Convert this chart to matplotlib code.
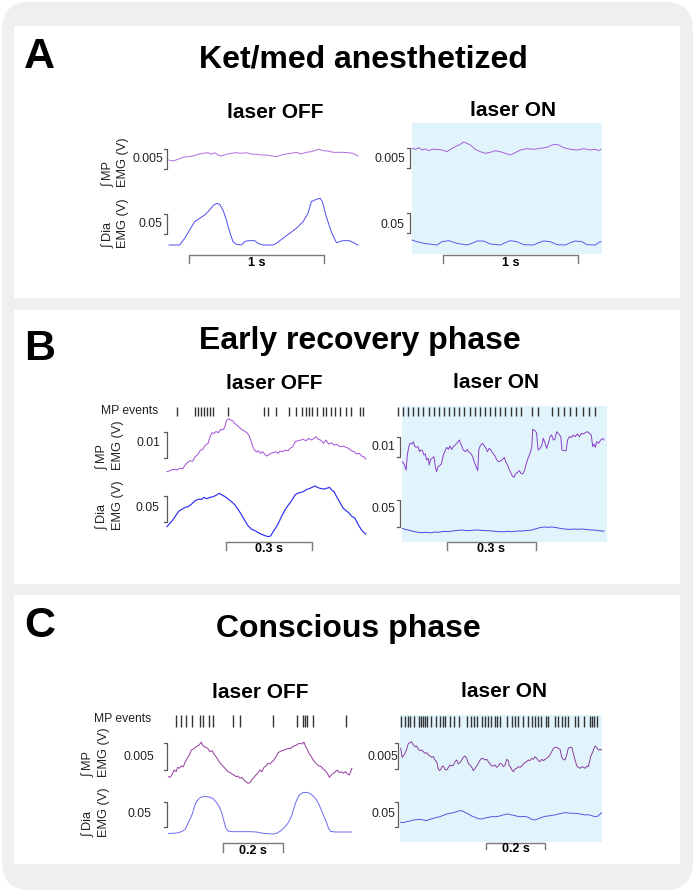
import numpy as np
import matplotlib
matplotlib.use('Agg')
import matplotlib.pyplot as plt
from matplotlib.patches import Rectangle, FancyBboxPatch

plt.rcParams['font.family'] = ['Liberation Sans', 'DejaVu Sans']

W, H = 695, 892

# ---- traces: (time in s, integrated EMG in mV) ----
# A: ket/med anesthetized
a_mp_off = [(0, 3.75), (.030, 3.5), (.067, 3.92), (.104, 4.42), (.141, 4.58), (.178, 4.75), (.215, 5.17),
            (.252, 5.42), (.289, 5.58), (.314, 5.17), (.338, 5.58), (.363, 5.0), (.388, 4.75), (.425, 5.17),
            (.462, 5.42), (.499, 5.58), (.536, 5.42), (.573, 5.58), (.610, 5.25), (.647, 5.17), (.684, 5.0),
            (.721, 5.0), (.758, 4.75), (.795, 4.58), (.832, 5.0), (.869, 5.25), (.906, 5.42), (.943, 5.67),
            (.980, 5.25), (1.017, 5.67), (1.054, 5.83), (1.091, 6.25), (1.116, 6.42), (1.141, 6.08),
            (1.178, 6.0), (1.215, 5.67), (1.252, 5.67), (1.289, 5.67), (1.326, 5.58), (1.363, 5.42),
            (1.400, 4.75)]
a_dia_off = [(0, 12.5), (.079, 12.5), (.116, 29.2), (.153, 50), (.190, 70.8), (.227, 79.2), (.264, 87.5),
             (.301, 100), (.331, 112.5), (.356, 116.7), (.375, 114.2), (.400, 100), (.425, 75), (.449, 45.8),
             (.474, 20.8), (.499, 14.2), (.536, 12.5), (.560, 20.8), (.585, 23.3), (.635, 23.3), (.659, 16.7),
             (.696, 12.5), (.770, 12.5), (.795, 16.7), (.844, 29.2), (.894, 41.7), (.943, 54.2), (.993, 70.8),
             (1.030, 91.7), (1.054, 120.8), (1.091, 126.7), (1.121, 129.2), (1.136, 120.8), (1.165, 83.3),
             (1.202, 45.8), (1.240, 18.3), (1.264, 20.8), (1.289, 23.3), (1.338, 23.3), (1.375, 16.7),
             (1.400, 12.5)]
a_mp_on = [(0, 6.67), (.025, 6.42), (.049, 6.83), (.074, 6.25), (.099, 6.5), (.123, 6.08), (.148, 6.42),
           (.185, 6.42), (.222, 6.25), (.259, 5.83), (.284, 6.42), (.321, 7.08), (.358, 7.67), (.383, 8.25),
           (.407, 7.92), (.432, 7.5), (.469, 6.42), (.506, 5.83), (.543, 5.42), (.580, 5.67), (.617, 6.08),
           (.654, 5.83), (.691, 5.42), (.728, 5.0), (.765, 5.58), (.802, 6.25), (.852, 6.58), (.901, 6.42),
           (.951, 6.67), (1.000, 6.92), (1.037, 7.5), (1.062, 7.67), (1.086, 7.5), (1.123, 6.83),
           (1.173, 6.42), (1.222, 6.25), (1.272, 6.58), (1.321, 6.25), (1.358, 6.42), (1.383, 6.08),
           (1.400, 6.42)]
a_dia_on = [(0, 25), (.037, 20.8), (.086, 16.7), (.185, 12.5), (.222, 20.8), (.272, 23.3), (.333, 16.7),
            (.407, 12.5), (.444, 16.7), (.481, 22.5), (.531, 22.5), (.580, 15), (.654, 12.5), (.691, 18.3),
            (.728, 23.3), (.778, 20.8), (.827, 13.3), (.901, 12.5), (.938, 18.3), (.975, 22.5), (1.025, 20.8),
            (1.074, 13.3), (1.136, 12.5), (1.173, 18.3), (1.210, 22.5), (1.259, 20.8), (1.296, 13.3),
            (1.358, 12.5), (1.383, 19.2), (1.400, 20.8)]

# B: early recovery phase
b_mp_off = [(0, 1.28), (.010, 1.66), (.022, 2.18), (.034, 1.92), (.045, 2.56), (.055, 2.43), (.063, 3.84),
            (.071, 4.74), (.080, 5.50), (.089, 5.25), (.098, 7.04), (.106, 7.68), (.115, 9.34), (.124, 9.86),
            (.134, 11.52), (.143, 12.16), (.150, 14.72), (.157, 16.26), (.164, 16.0), (.171, 16.77),
            (.179, 16.26), (.187, 17.54), (.194, 17.28), (.201, 18.3), (.208, 21.12), (.215, 21.63),
            (.222, 21.12), (.229, 20.86), (.236, 19.84), (.243, 19.2), (.252, 18.3), (.260, 17.54),
            (.268, 17.02), (.278, 16.26), (.285, 15.36), (.292, 13.44), (.298, 11.14), (.305, 9.6),
            (.312, 8.83), (.319, 9.34), (.326, 8.32), (.333, 8.96), (.340, 8.06), (.347, 7.30), (.354, 7.68),
            (.361, 8.32), (.370, 8.58), (.380, 8.96), (.387, 8.32), (.394, 9.22), (.403, 8.96), (.412, 9.6),
            (.422, 9.34), (.429, 10.24), (.438, 10.88), (.447, 12.8), (.456, 13.18), (.466, 13.44),
            (.475, 13.7), (.484, 13.18), (.494, 14.08), (.503, 13.44), (.510, 13.95), (.519, 14.72),
            (.527, 13.7), (.535, 13.44), (.545, 12.16), (.554, 13.44), (.563, 11.9), (.573, 12.42),
            (.582, 11.52), (.591, 11.78), (.603, 10.88), (.614, 11.14), (.624, 10.62), (.633, 10.24),
            (.642, 9.34), (.652, 8.96), (.661, 8.06), (.670, 8.32), (.678, 7.30), (.686, 7.04), (.693, 6.14)]
b_dia_off = [(0, 64.1), (.010, 70.5), (.022, 78.2), (.034, 88.5), (.043, 94.9), (.052, 97.4), (.063, 101.3),
             (.074, 102.6), (.086, 107.7), (.098, 114.1), (.109, 116.7), (.121, 116.7), (.129, 120.5),
             (.138, 117.9), (.150, 120.5), (.161, 121.8), (.173, 125), (.182, 128.2), (.190, 125.6),
             (.202, 121.8), (.214, 116.7), (.225, 112.2), (.237, 105.8), (.249, 96.2), (.260, 86.5),
             (.272, 75), (.283, 65.4), (.295, 59), (.307, 56.4), (.318, 52.6), (.330, 49.4), (.341, 46.8),
             (.353, 44.9), (.361, 46.2), (.370, 54.5), (.380, 62.8), (.389, 71.8), (.400, 84.6), (.411, 96.2),
             (.423, 105.8), (.434, 114.1), (.446, 125), (.454, 128.2), (.463, 129.5), (.475, 131.4),
             (.487, 135.9), (.496, 137.2), (.505, 139.7), (.516, 142.3), (.524, 139.7), (.533, 137.8),
             (.545, 136.5), (.556, 137.8), (.566, 139.7), (.574, 134.6), (.582, 131.4), (.591, 121.8),
             (.603, 110.3), (.614, 99.4), (.624, 94.9), (.633, 91), (.643, 84.6), (.655, 80.1), (.667, 67.3),
             (.678, 57.7), (.686, 52.6), (.693, 50)]
b_mp_on = [(.001, 6.67), (.007, 5.5), (.014, 2.5), (.018, 10), (.023, 14.17), (.027, 15.83), (.033, 15.5),
           (.038, 16.67), (.043, 14.5), (.047, 13.83), (.054, 14.17), (.059, 11.67), (.063, 12.5),
           (.069, 12.17), (.074, 10), (.079, 10.5), (.083, 7.5), (.089, 8.33), (.092, 5), (.097, 7.83),
           (.101, 8.33), (.108, 9.17), (.113, 3.83), (.117, 1.67), (.122, 4.17), (.126, 4.5), (.133, 5.5),
           (.140, 10), (.147, 12.5), (.151, 13.83), (.157, 12.83), (.162, 14.5), (.168, 12.83), (.174, 14.17),
           (.180, 15), (.187, 16.17), (.194, 17.5), (.198, 15.83), (.203, 14.17), (.207, 12.5), (.214, 11.67),
           (.221, 12.83), (.225, 11.67), (.232, 10.83), (.238, 9.5), (.244, 6.67), (.250, 4.5), (.256, 2.17),
           (.260, 12.83), (.266, 15), (.273, 15.83), (.280, 14.17), (.284, 13.33), (.289, 11.67),
           (.295, 13.33), (.301, 12.5), (.307, 10.83), (.315, 9.5), (.320, 7.5), (.327, 6.67), (.334, 7),
           (.340, 7.83), (.346, 8.83), (.352, 6.17), (.357, 5), (.363, 2.5), (.368, 1.17), (.373, -0.5),
           (.379, -1.17), (.383, 0.5), (.390, 1.17), (.397, 2.17), (.402, 0.83), (.408, 0.5), (.415, 2.5),
           (.419, 5), (.426, 8.33), (.433, 10.83), (.439, 14.17), (.442, 22.83), (.449, 22.17),
           (.455, 21.17), (.460, 12.5), (.467, 13.33), (.473, 15), (.478, 18.33), (.484, 15.83),
           (.489, 13.33), (.495, 15.83), (.501, 19.17), (.506, 20), (.512, 17.5), (.517, 17.83),
           (.523, 21.67), (.530, 20.5), (.537, 19.17), (.541, 12.5), (.548, 12.17), (.555, 12.17),
           (.560, 17.5), (.566, 19.17), (.574, 18.83), (.579, 20), (.586, 19.17), (.593, 20.5), (.600, 19.17),
           (.607, 20.83), (.613, 20.5), (.620, 21.17), (.627, 21.67), (.634, 20.83), (.640, 20),
           (.645, 14.17), (.649, 15.5), (.654, 13.83), (.658, 16.67), (.665, 15.83), (.672, 17.5),
           (.679, 18.33), (.683, 17.5)]
b_dia_on = [(.001, 58.6), (.010, 56.8), (.021, 55.5), (.033, 53.7), (.044, 52.4), (.055, 51.2), (.067, 50.6),
            (.078, 51.2), (.089, 50.6), (.100, 50.6), (.112, 51.8), (.123, 51.2), (.134, 52.4), (.145, 53.1),
            (.157, 52.4), (.168, 53.7), (.179, 54.3), (.191, 54.9), (.202, 55.5), (.213, 54.9), (.224, 54.3),
            (.236, 54.9), (.247, 55.5), (.258, 55.5), (.269, 54.9), (.281, 54.3), (.292, 54.3), (.303, 53.7),
            (.315, 53.1), (.326, 52.4), (.337, 52.4), (.348, 52.4), (.360, 53.1), (.371, 52.4), (.382, 53.1),
            (.393, 53.7), (.405, 53.7), (.416, 54.3), (.427, 54.9), (.439, 55.5), (.450, 57.4), (.461, 59.2),
            (.472, 60.5), (.484, 61.1), (.495, 60.5), (.506, 61.1), (.517, 60.5), (.529, 59.2), (.540, 58),
            (.551, 57.4), (.563, 56.8), (.574, 56.8), (.585, 57.4), (.596, 56.8), (.608, 57.4), (.619, 56.8),
            (.630, 56.1), (.641, 55.5), (.653, 55.5), (.664, 54.3), (.675, 53.7), (.683, 53.7)]

# C: conscious phase
c_mp_off = [(0, 1.54), (.006, 1.42), (.012, 1.85), (.019, 2.78), (.026, 2.47), (.031, 3.27), (.037, 3.09),
            (.043, 3.52), (.050, 3.39), (.057, 4.32), (.063, 4.94), (.070, 5.55), (.077, 6.48), (.083, 6.60),
            (.090, 6.97), (.097, 7.22), (.103, 7.40), (.110, 7.96), (.114, 7.40), (.119, 7.10), (.126, 6.97),
            (.132, 6.73), (.139, 6.17), (.146, 6.36), (.152, 5.74), (.159, 5.24), (.166, 4.63), (.172, 4.13),
            (.179, 3.70), (.186, 3.27), (.192, 2.90), (.199, 2.47), (.206, 2.28), (.212, 2.04), (.219, 1.85),
            (.226, 1.54), (.232, 1.67), (.239, 1.23), (.246, 1.42), (.252, 0.93), (.259, 0.62), (.266, 0.31),
            (.272, 0.43), (.279, 1.05), (.286, 1.42), (.292, 1.85), (.299, 2.28), (.306, 2.78), (.312, 2.47),
            (.319, 3.27), (.326, 3.52), (.332, 4.01), (.339, 3.89), (.346, 4.32), (.352, 4.63), (.359, 5.24),
            (.366, 5.98), (.372, 6.17), (.379, 6.36), (.386, 6.48), (.392, 6.60), (.399, 6.79), (.406, 6.73),
            (.412, 6.97), (.419, 7.22), (.426, 7.34), (.432, 7.59), (.439, 7.71), (.446, 7.59), (.452, 7.96),
            (.457, 7.22), (.463, 6.60), (.470, 5.74), (.477, 5.24), (.483, 4.63), (.490, 4.13), (.497, 3.70),
            (.503, 3.52), (.510, 3.39), (.517, 2.90), (.523, 2.65), (.530, 2.16), (.537, 1.42), (.543, 1.85),
            (.550, 2.16), (.557, 2.47), (.563, 2.78), (.570, 2.28), (.577, 2.47), (.583, 2.16), (.590, 2.47),
            (.597, 2.04), (.603, 1.85), (.608, 2.47), (.612, 3.09)]
c_dia_off = [(0, 13.3), (.017, 13.3), (.033, 14.7), (.044, 16.7), (.056, 21.3), (.063, 30), (.072, 41.3),
             (.080, 52), (.087, 66.7), (.094, 76.7), (.103, 83.3), (.114, 86.7), (.128, 86.7), (.141, 85.3),
             (.152, 81.3), (.161, 74.7), (.170, 66.7), (.178, 54.7), (.186, 36.7), (.192, 23.3), (.200, 18),
             (.211, 16.7), (.228, 16.7), (.250, 16.7), (.272, 16.7), (.294, 16), (.311, 14), (.328, 12.7),
             (.350, 12), (.363, 14), (.374, 18), (.386, 24.7), (.397, 32), (.406, 41.3), (.413, 52),
             (.420, 66.7), (.428, 80), (.437, 90), (.448, 94.7), (.461, 95.3), (.472, 93.3), (.483, 88),
             (.494, 80), (.503, 70), (.511, 58.7), (.519, 46.7), (.528, 34.7), (.534, 23.3), (.541, 17.3),
             (.556, 16), (.578, 16), (.611, 16)]
c_mp_on = [(0, 7.05), (.005, 5.32), (.009, 5.58), (.015, 6.09), (.020, 6.86), (.026, 8.01), (.032, 8.14),
           (.037, 8.33), (.043, 7.69), (.049, 7.37), (.054, 7.50), (.060, 6.86), (.066, 6.60), (.071, 6.73),
           (.077, 6.41), (.082, 6.09), (.088, 6.22), (.094, 5.77), (.099, 5.58), (.105, 5.32), (.111, 5.45),
           (.116, 4.81), (.122, 4.49), (.127, 3.21), (.131, 2.76), (.136, 3.01), (.140, 3.53), (.145, 3.65),
           (.150, 3.01), (.156, 2.88), (.162, 3.40), (.167, 3.85), (.173, 3.65), (.179, 3.85), (.184, 4.49),
           (.190, 4.81), (.195, 4.04), (.201, 4.29), (.207, 4.81), (.212, 5.32), (.218, 5.58), (.224, 5.13),
           (.229, 4.17), (.235, 3.85), (.241, 3.40), (.246, 2.76), (.252, 3.21), (.258, 3.65), (.263, 4.17),
           (.269, 4.81), (.275, 5.13), (.280, 5.06), (.286, 4.81), (.292, 4.94), (.297, 4.49), (.303, 4.04),
           (.308, 3.65), (.314, 3.65), (.320, 3.85), (.325, 3.40), (.331, 3.65), (.337, 4.17), (.342, 4.04),
           (.348, 3.53), (.354, 3.85), (.359, 4.94), (.365, 4.68), (.368, 3.65), (.373, 3.40), (.377, 2.88),
           (.382, 2.56), (.386, 3.01), (.393, 3.21), (.399, 3.53), (.405, 3.40), (.410, 3.65), (.416, 4.04),
           (.421, 4.29), (.427, 4.49), (.433, 4.81), (.438, 4.68), (.444, 5.13), (.450, 4.94), (.455, 5.45),
           (.461, 5.13), (.467, 4.68), (.472, 4.49), (.478, 4.94), (.484, 4.68), (.489, 4.94), (.495, 5.13),
           (.501, 5.45), (.506, 5.77), (.512, 6.41), (.518, 7.05), (.523, 7.24), (.529, 7.24), (.534, 7.05),
           (.540, 6.86), (.546, 5.32), (.551, 4.94), (.557, 4.81), (.563, 5.77), (.568, 7.05), (.574, 7.24),
           (.580, 7.24), (.585, 6.09), (.591, 4.81), (.597, 3.65), (.602, 3.40), (.608, 3.21), (.614, 3.53),
           (.619, 3.40), (.625, 3.21), (.631, 3.65), (.636, 3.53), (.640, 4.49), (.644, 5.45), (.651, 6.41),
           (.659, 7.50), (.664, 7.24), (.670, 6.73), (.676, 6.86), (.681, 6.73)]
c_dia_on = [(0, 35.3), (.009, 34.7), (.020, 36.7), (.032, 38), (.043, 40), (.054, 40.7), (.066, 41.3),
            (.077, 40), (.088, 38.7), (.099, 41.3), (.111, 43.3), (.122, 45.3), (.133, 46.7), (.145, 49.3),
            (.156, 52), (.167, 53.3), (.179, 54.7), (.190, 56.7), (.201, 58.7), (.210, 58), (.219, 54.7),
            (.229, 52), (.241, 48), (.252, 45.3), (.263, 42.7), (.275, 42), (.286, 44), (.297, 45.3),
            (.308, 46.7), (.320, 46.7), (.331, 47.3), (.342, 49.3), (.354, 51.3), (.365, 52), (.376, 50),
            (.388, 48.7), (.399, 46.7), (.410, 46.7), (.421, 47.3), (.433, 45.3), (.444, 41.3), (.455, 40),
            (.467, 42.7), (.478, 45.3), (.489, 47.3), (.501, 48), (.512, 49.3), (.523, 50), (.534, 52),
            (.546, 53.3), (.557, 54.7), (.568, 54), (.580, 53.3), (.591, 53.3), (.602, 52.7), (.614, 51.3),
            (.625, 50), (.636, 50.7), (.647, 48.7), (.659, 46.7), (.670, 48), (.676, 52), (.681, 54.7)]

# MP unit events (s)
b_ev_off = [.035, .098, .108, .118, .129, .139, .150, .160, .213, .338, .352, .380, .425, .449, .470, .484,
            .495, .505, .523, .544, .554, .571, .585, .603, .624, .641, .672, .683]
b_ev_on = [-.015, .003, .020, .038, .055, .072, .090, .107, .124, .142, .159, .177, .194, .211, .229, .246,
           .263, .281, .298, .316, .333, .350, .368, .385, .402, .441, .460, .507, .528, .549, .569, .590,
           .611, .632, .653]
c_ev_off = [.026, .041, .059, .078, .106, .117, .136, .150, .215, .239, .350, .428, .448, .455, .461, .483, .592]
c_ev_on = [.001, .015, .026, .033, .045, .062, .069, .076, .082, .089, .104, .118, .133, .142, .150, .167,
           .179, .196, .225, .240, .250, .259, .274, .286, .296, .306, .318, .326, .337, .361, .377, .386,
           .398, .413, .432, .445, .456, .464, .476, .492, .499, .523, .533, .547, .557, .567, .591, .601,
           .622, .642, .649, .656, .666]

fig = plt.figure(figsize=(W / 100, H / 100), dpi=100)
fig.patch.set_facecolor('white')


def fig_box(x0, y0, x1, y1):
    # pixel box, y counted from the top -> figure fraction
    return [x0 / W, 1 - y1 / H, (x1 - x0) / W, (y1 - y0) / H]


def put_text(x, y, s, **kw):
    fig.text(x / W, 1 - y / H, s, **kw)


def background(x0, y0, x1, y1, color, z):
    b = fig_box(x0, y0, x1, y1)
    fig.add_artist(Rectangle((b[0], b[1]), b[2], b[3], transform=fig.transFigure,
                             fc=color, ec='none', zorder=z))


def trace_axes(x0, pps, dur, y0, vpp, vspan):
    ax = fig.add_axes(fig_box(x0, y0 - vspan / vpp, x0 + dur * pps, y0))
    ax.set_xlim(0, dur)
    ax.set_ylim(0, vspan)
    ax.axis('off')
    return ax


def plot_trace(ax, pts, color, lw=0.7):
    t, v = zip(*pts)
    ax.plot(t, v, color=color, lw=lw, clip_on=False)


def bracket(ax, dx, v0, v1, tick=3):
    w = ax.bbox.width
    xs = np.array([dx - tick, dx, dx, dx - tick]) / w
    ax.plot(xs, [v1, v1, v0, v0], transform=ax.get_yaxis_transform(),
            color='#5a5a5a', lw=0.9, clip_on=False)


def time_bar(ax, t0, dur, v_top, v_bot, label, v_lab):
    ax.plot([t0, t0, t0 + dur, t0 + dur], [v_bot, v_top, v_top, v_bot],
            color='#7a7a7a', lw=1.0, clip_on=False)
    ax.text(t0 + dur / 2, v_lab, label, ha='center', va='center',
            fontsize=9, fontweight='bold', clip_on=False)


def events(x0, pps, dur, y_top, y_bot, times):
    ax = fig.add_axes(fig_box(x0, y_top, x0 + dur * pps, y_bot))
    ax.set_xlim(0, dur)
    ax.set_ylim(0, 1)
    ax.axis('off')
    ax.vlines(times, 0, 1, color='#333333', lw=1.0, clip_on=False)


# frame and panels
fig.add_artist(FancyBboxPatch((0.003, 0.002), 0.994, 0.996,
                              boxstyle='round,pad=0,rounding_size=0.04', mutation_aspect=W / H,
                              transform=fig.transFigure, fc='#eef0ef', ec='none', zorder=-3))
for top, bot in [(26, 298), (310, 584), (595, 864)]:
    background(14, top, 680, bot, 'white', -2)
laser_blue = '#e1f4fc'
background(412, 123, 602, 254, laser_blue, -1)
background(402, 406, 607, 542, laser_blue, -1)
background(400, 715, 602, 842, laser_blue, -1)

small = dict(fontsize=8.7, color='#222222')
big = dict(fontsize=31, fontweight='bold', va='baseline')
title = dict(fontsize=23, fontweight='bold', ha='center', va='baseline')
sub = dict(fontsize=15, fontweight='bold', ha='center', va='baseline')
ylab = dict(rotation=90, ha='center', va='bottom', multialignment='left', linespacing=1.3,
            fontsize=9.2, color='#222222')

# ---------------- A ----------------
put_text(24, 68, 'A', **big)
put_text(363.5, 68, 'Ket/med anesthetized', **title)
put_text(275.5, 118, 'laser OFF', **sub)
put_text(513.5, 116, 'laser ON', **sub)
put_text(115.5, 187, '∫ MP\nEMG (V)', **ylab)
put_text(115.5, 248, '∫ Dia\nEMG (V)', **ylab)

ax = trace_axes(169, 135, 1.4, 175, 0.25, 10)
plot_trace(ax, a_mp_off, '#b36be0')
bracket(ax, -2.5, 1.5, 6.5)
ax = trace_axes(169, 135, 1.4, 250, 2.5, 150)
plot_trace(ax, a_dia_off, '#4d4df2')
bracket(ax, -2.5, 40, 90)
time_bar(ax, 0.148, 1, -12.5, -32.5, '1 s', -32.5)
put_text(148, 159, '0.005', ha='center', va='center', **small)
put_text(150.5, 224, '0.05', ha='center', va='center', **small)

ax = trace_axes(412, 135, 1.4, 175, 0.25, 10)
plot_trace(ax, a_mp_on, '#a461d8')
bracket(ax, -2, 1.75, 6.75)
ax = trace_axes(412, 135, 1.4, 250, 2.5, 150)
plot_trace(ax, a_dia_on, '#5a5af0')
bracket(ax, -2, 42.5, 92.5)
time_bar(ax, 0.230, 1, -12.5, -32.5, '1 s', -32.5)
put_text(390, 159, '0.005', ha='center', va='center', **small)
put_text(392, 225, '0.05', ha='center', va='center', **small)

# ---------------- B ----------------
put_text(24, 360, 'B', **big)
put_text(360, 349, 'Early recovery phase', **title)
put_text(274, 389, 'laser OFF', **sub)
put_text(496, 388, 'laser ON', **sub)
put_text(158, 411, 'MP events', ha='right', va='center', **small)
put_text(110, 470, '∫ MP\nEMG (V)', **ylab)
put_text(110, 530, '∫ Dia\nEMG (V)', **ylab)

events(167, 287, 0.69, 407, 416, b_ev_off)
ax = trace_axes(167, 287, 0.69, 475, 10 / 26, 25)
plot_trace(ax, b_mp_off, '#a04fd8')
bracket(ax, -0.5, 6.5, 16.5)
ax = trace_axes(167, 287, 0.69, 560, 50 / 26, 140)
plot_trace(ax, b_dia_off, '#2e2ef0', lw=0.85)
bracket(ax, -0.5, 73, 123)
time_bar(ax, 0.206, 0.3, 34.6, 19.2, '0.3 s', 21.2)
put_text(148, 443, '0.01', ha='center', va='center', **small)
put_text(147, 508, '0.05', ha='center', va='center', **small)

events(402, 295.7, 0.69, 407, 416, b_ev_on)
ax = trace_axes(402, 295.7, 0.69, 475, 0.5, 25)
plot_trace(ax, b_mp_on, '#8a3fc8')
bracket(ax, -2, 9, 19)
ax = trace_axes(402, 295.7, 0.69, 560, 50 / 27, 140)
plot_trace(ax, b_dia_on, '#4a4ae8')
bracket(ax, -2, 61, 111)
time_bar(ax, 0.152, 0.3, 33.3, 18.5, '0.3 s', 20.4)
put_text(383, 447, '0.01', ha='center', va='center', **small)
put_text(383.5, 509, '0.05', ha='center', va='center', **small)

# ---------------- C ----------------
put_text(24, 637, 'C', **big)
put_text(348.5, 637, 'Conscious phase', **title)
put_text(260, 698, 'laser OFF', **sub)
put_text(504, 697, 'laser ON', **sub)
put_text(151, 719, 'MP events', ha='right', va='center', **small)
put_text(96, 777, '∫ MP\nEMG (V)', **ylab)
put_text(96, 837, '∫ Dia\nEMG (V)', **ylab)

events(168.3, 300, 0.612, 715, 727, c_ev_off)
ax = trace_axes(168.3, 300, 0.612, 785, 5 / 27, 10)
plot_trace(ax, c_mp_off, '#963b9c')
bracket(ax, -1.3, 2.8, 7.8)
ax = trace_axes(168.3, 300, 0.612, 840, 2, 110)
plot_trace(ax, c_dia_off, '#6b6bf0')
bracket(ax, -1.3, 26, 76)
time_bar(ax, 0.182, 0.2, -6, -24, '0.2 s', -22)
put_text(139, 757, '0.005', ha='center', va='center', **small)
put_text(139.5, 814, '0.05', ha='center', va='center', **small)

events(400.7, 295, 0.681, 716, 727, c_ev_on)
ax = trace_axes(400.7, 295, 0.681, 785, 5 / 26, 10)
plot_trace(ax, c_mp_on, '#8b3f9b')
bracket(ax, -2.7, 3.1, 8.1)
ax = trace_axes(400.7, 295, 0.681, 840, 2, 110)
plot_trace(ax, c_dia_on, '#5858e0')
bracket(ax, -2.7, 26, 76)
time_bar(ax, 0.289, 0.2, -6, -18, '0.2 s', -18)
put_text(383, 757, '0.005', ha='center', va='center', **small)
put_text(383.5, 814, '0.05', ha='center', va='center', **small)

fig.savefig('out.png', dpi=100)
